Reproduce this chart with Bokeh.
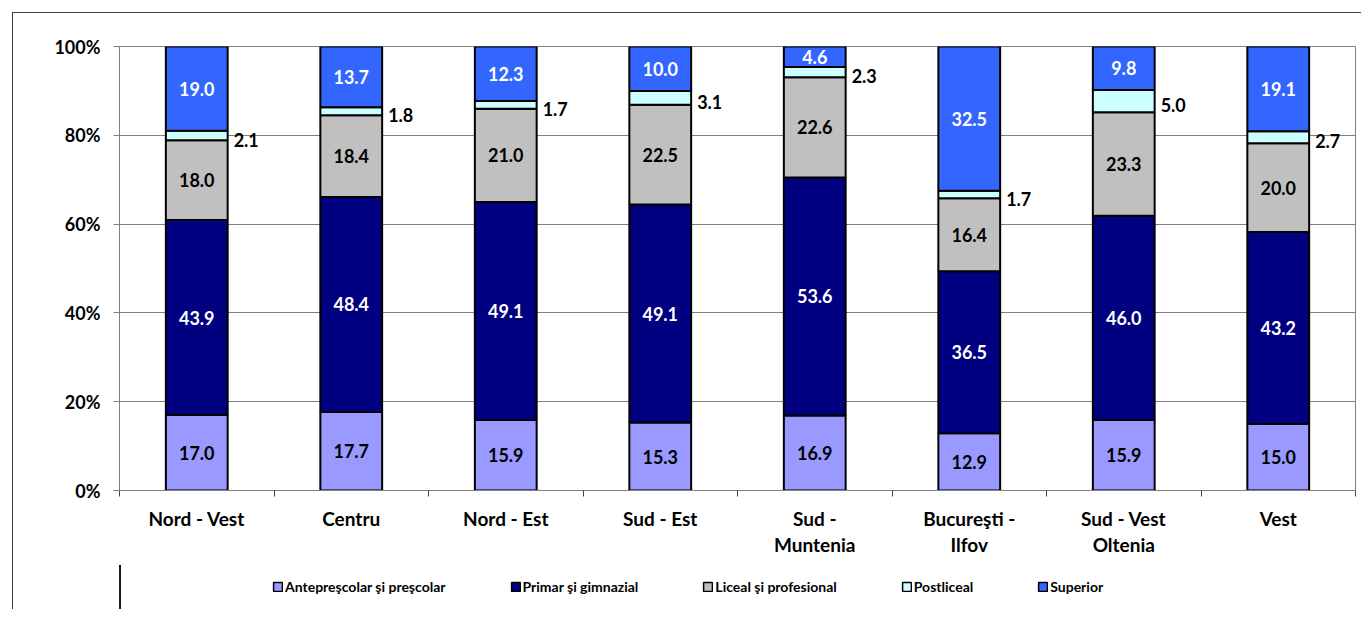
from bokeh.plotting import figure
from bokeh.layouts import column
from bokeh.models import ColumnDataSource, FixedTicker, LinearAxis, Range1d, Legend, LegendItem
from bokeh.core.properties import value
from bokeh.embed import file_html
from bokeh.resources import INLINE

regions = ["Nord - Vest", "Centru", "Nord - Est", "Sud - Est", "Sud -\nMuntenia",
           "Bucureşti -\nIlfov", "Sud - Vest\nOltenia", "Vest"]
antepre = [17.0, 17.7, 15.9, 15.3, 16.9, 12.9, 15.9, 15.0]
primar = [43.9, 48.4, 49.1, 49.1, 53.6, 36.5, 46.0, 43.2]
liceal = [18.0, 18.4, 21.0, 22.5, 22.6, 16.4, 23.3, 20.0]
postliceal = [2.1, 1.8, 1.7, 3.1, 2.3, 1.7, 5.0, 2.7]
superior = [19.0, 13.7, 12.3, 10.0, 4.6, 32.5, 9.8, 19.1]
series_names = ["Antepreşcolar şi preşcolar", "Primar şi gimnazial",
                "Liceal şi profesional", "Postliceal", "Superior"]
y_ticks = [0, 20, 40, 60, 80, 100]
y_tick_labels = ["0%", "20%", "40%", "60%", "80%", "100%"]

colors = ["#9999FF", "#000080", "#C0C0C0", "#CCFFFF", "#3366FF"]
label_colors = ["black", "white", "black", "black", "white"]
FONT = "Lato"

series = [antepre, primar, liceal, postliceal, superior]
keys = ["s0", "s1", "s2", "s3", "s4"]
n = len(regions)
xs = [i + 0.5 for i in range(n)]
totals = [sum(s[i] for s in series) for i in range(n)]
pct = [[s[i] / totals[i] * 100 for i in range(n)] for s in series]

data = {"x": xs}
for k, v in zip(keys, pct):
    data[k] = v
src = ColumnDataSource(data)

W, H = 1348, 552
p = figure(width=W, height=H, output_backend="svg", toolbar_location=None,
           x_range=Range1d(0, n), y_range=Range1d(0, 100),
           min_border_left=106, min_border_right=6, min_border_top=33,
           min_border_bottom=75, x_axis_location=None, y_axis_location=None)
p.background_fill_color = "white"
p.border_fill_color = "white"
p.outline_line_color = "#808080"
p.outline_line_width = 1

BAR_W = 0.4
renderers = p.vbar_stack(keys, x="x", width=BAR_W, color=colors, line_color="black",
                         line_width=2, source=src)

# y axis
yax = LinearAxis(ticker=FixedTicker(ticks=y_ticks),
                 major_label_overrides={t: l for t, l in zip(y_ticks, y_tick_labels)})
yax.axis_line_color = "#808080"
yax.major_tick_line_color = "#808080"
yax.major_tick_in = 0
yax.major_tick_out = 6
yax.minor_tick_line_color = None
yax.major_label_standoff = 13
yax.major_label_text_font = FONT
yax.major_label_text_font_style = "bold"
yax.major_label_text_font_size = "18px"
yax.major_label_text_color = "black"
p.add_layout(yax, "left")

# x axis ticks at category boundaries
xax = LinearAxis(ticker=FixedTicker(ticks=list(range(n + 1))))
xax.axis_line_color = "#808080"
xax.major_tick_line_color = "#404040"
xax.major_tick_in = 0
xax.major_tick_out = 6
xax.minor_tick_line_color = None
xax.major_label_text_font_size = "1px"
xax.major_label_text_alpha = 0
xax.major_label_standoff = 0
p.add_layout(xax, "below")

# x axis labels at category centres
xlab = LinearAxis(ticker=FixedTicker(ticks=xs),
                  major_label_overrides={x: r for x, r in zip(xs, regions)})
xlab.axis_line_color = None
xlab.major_tick_line_color = None
xlab.minor_tick_line_color = None
xlab.major_label_standoff = 4
xlab.major_label_text_font = FONT
xlab.major_label_text_font_style = "bold"
xlab.major_label_text_font_size = "19px"
xlab.major_label_text_color = "black"
xlab.major_label_text_line_height = 1.15
p.add_layout(xlab, "below")

p.xgrid.visible = False
p.ygrid.ticker = FixedTicker(ticks=y_ticks)
p.ygrid.grid_line_color = "#808080"
p.ygrid.grid_line_width = 1

# data labels
lx, ly, lt, lc = [], [], [], []
px, py, pt = [], [], []
for si, s in enumerate(pct):
    for i in range(n):
        base = sum(pct[j][i] for j in range(si))
        mid = base + s[i] / 2
        txt = f"{series[si][i]:.1f}"
        if si == 3:
            px.append(xs[i] + BAR_W / 2)
            py.append(mid)
            pt.append(txt)
        else:
            lx.append(xs[i]); ly.append(mid); lt.append(txt); lc.append(label_colors[si])

p.text(x=lx, y=ly, text=lt, text_color=lc, text_align="center", text_baseline="middle",
       text_font=value(FONT), text_font_style="bold", text_font_size="18px")
p.text(x=px, y=py, text=pt, text_color="black", text_align="left", text_baseline="middle",
       x_offset=6, y_offset=4,
       text_font=value(FONT), text_font_style="bold", text_font_size="18px")

# legend strip below the chart: same stacked series, kept outside this strip's view
p2 = figure(width=W, height=44, output_backend="svg", toolbar_location=None,
            x_range=Range1d(100, 101), y_range=Range1d(0, 1), min_border=0,
            x_axis_location=None, y_axis_location=None)
p2.outline_line_color = None
p2.grid.visible = False
p2.background_fill_color = "white"
p2.border_fill_color = "white"
swatches = p2.vbar_stack(keys, x="x", width=BAR_W, color=colors, line_color="black",
                         line_width=1.5, source=src)
leg = Legend(items=[LegendItem(label=nm, renderers=[r]) for nm, r in zip(series_names, swatches)])
leg.orientation = "horizontal"
leg.location = (153, 14)
leg.spacing = 64
leg.padding = 0
leg.margin = 0
leg.glyph_width = 11
leg.glyph_height = 11
leg.label_standoff = 2
leg.label_height = 11
leg.label_width = 0
leg.border_line_color = None
leg.background_fill_alpha = 0
leg.label_text_font = FONT
leg.label_text_font_style = "bold"
leg.label_text_font_size = "14px"
leg.label_text_color = "black"
p2.add_layout(leg)

layout = column(p, p2, styles={"margin-left": "12px", "margin-top": "12px",
                               "border-left": "1px solid #404040",
                               "border-top": "1px solid #404040"})

open("out.html", "w").write(file_html(layout, INLINE))
